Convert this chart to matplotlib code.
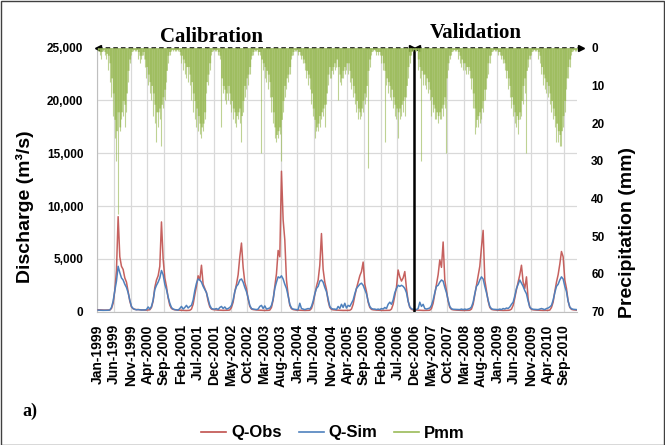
import matplotlib
matplotlib.use("Agg")
import matplotlib.pyplot as plt
from matplotlib.lines import Line2D
from matplotlib.patches import Rectangle
import numpy as np


# Semi-monthly series, Jan-1999 .. Dec-2010 (24 values per year)
Q_OBS = [
  180, 170, 160, 150, 150, 150, 150, 160, 300, 800, 2000, 3900, 9000, 5200, 4300, 4000, 3200, 2800, 1900, 1000, 450, 280, 220, 200,
  200, 180, 170, 160, 150, 150, 160, 180, 400, 1000, 2300, 3000, 3400, 4300, 8500, 5000, 3200, 2400, 1300, 600, 300, 220, 180, 160,
  150, 140, 130, 120, 110, 110, 120, 130, 250, 700, 1600, 2400, 3400, 3000, 4400, 2600, 2200, 1800, 1000, 450, 250, 200, 180, 160,
  150, 140, 140, 130, 130, 130, 140, 160, 400, 900, 1900, 2600, 3500, 5200, 6500, 4200, 2800, 2200, 1200, 500, 250, 200, 180, 160,
  150, 140, 130, 130, 120, 120, 130, 150, 400, 1100, 2400, 3600, 5800, 5200, 13300, 8700, 6800, 3000, 1600, 600, 280, 200, 170, 150,
  150, 140, 130, 130, 120, 120, 130, 140, 300, 800, 1600, 2400, 3000, 4400, 7400, 4000, 2800, 2100, 1000, 400, 220, 180, 160, 150,
  140, 130, 120, 120, 120, 110, 120, 130, 250, 700, 1500, 2200, 2800, 3400, 3800, 4700, 2600, 1900, 900, 400, 220, 180, 160, 150,
  140, 130, 120, 120, 120, 110, 120, 130, 250, 700, 1500, 2300, 3950, 3300, 2900, 3200, 3800, 2200, 1000, 400, 220, 170, 160, 150,
  140, 130, 130, 120, 120, 120, 130, 140, 300, 800, 1700, 2600, 3500, 4900, 4200, 6600, 3000, 2000, 1000, 400, 220, 180, 160, 150,
  140, 130, 130, 120, 120, 120, 130, 140, 250, 700, 1600, 2500, 3400, 4300, 6100, 7700, 3000, 2000, 1000, 400, 220, 180, 160, 150,
  140, 130, 130, 120, 120, 120, 130, 150, 250, 600, 1300, 2100, 2800, 3500, 4400, 2800, 2200, 3300, 1200, 400, 220, 180, 160, 150,
  140, 130, 130, 120, 120, 120, 130, 150, 400, 900, 1900, 2800, 3500, 4500, 5700, 5200, 3000, 2200, 1000, 400, 220, 180, 160, 150,
]

Q_SIM = [
  150, 140, 140, 130, 130, 130, 140, 160, 400, 1000, 2000, 2900, 4300, 3700, 3200, 3000, 2600, 2300, 1800, 1100, 500, 300, 220, 180,
  200, 180, 160, 160, 170, 200, 450, 250, 500, 1100, 2100, 2500, 2800, 3200, 3900, 3500, 2600, 2100, 1400, 800, 400, 250, 200, 170,
  150, 300, 500, 250, 400, 600, 350, 500, 600, 1100, 2000, 2700, 3100, 3000, 2800, 2400, 2100, 1800, 1200, 600, 300, 250, 250, 300,
  200, 400, 500, 300, 450, 250, 300, 400, 600, 1100, 1900, 2400, 2600, 3000, 3100, 2800, 2300, 1900, 1300, 600, 300, 250, 220, 200,
  250, 500, 600, 300, 550, 250, 300, 350, 600, 1200, 2200, 2800, 3300, 3200, 3400, 3100, 2600, 2200, 1500, 700, 350, 250, 220, 200,
  200, 800, 300, 250, 200, 250, 300, 250, 500, 1000, 1700, 2200, 2400, 2900, 3000, 2800, 2300, 1900, 1200, 500, 300, 250, 250, 200,
  500, 300, 700, 400, 800, 350, 600, 500, 800, 1100, 1700, 2200, 2400, 2600, 2700, 2500, 2100, 1700, 1000, 500, 300, 250, 250, 200,
  250, 200, 300, 250, 400, 300, 700, 900, 700, 1100, 1800, 2200, 2500, 2400, 2500, 2400, 2200, 1800, 1000, 450, 280, 220, 220, 200,
  300, 900, 500, 700, 300, 250, 300, 350, 600, 1100, 1800, 2400, 2500, 2800, 3000, 2900, 2300, 1800, 1100, 500, 280, 230, 220, 200,
  200, 200, 250, 200, 250, 200, 250, 300, 450, 900, 1700, 2400, 2600, 3000, 3300, 3100, 2400, 1800, 1100, 500, 280, 230, 220, 200,
  200, 250, 200, 300, 250, 350, 300, 450, 700, 900, 1500, 2200, 2600, 3000, 2700, 2400, 2000, 1700, 1000, 450, 280, 230, 220, 200,
  200, 250, 300, 250, 200, 300, 350, 450, 600, 1100, 1800, 2400, 2600, 3000, 3300, 3100, 2400, 1900, 1000, 450, 280, 230, 220, 200,
]

# typical daily rain within each half month (mm)
PMM_DENSE = [
  0.5, 1, 1, 0.5, 1, 1.5, 2, 4, 8, 12, 19, 22, 17, 21, 17, 14, 15, 12, 6, 3, 1, 0.5, 0.5, 0.5,
  1, 2, 2, 1, 3, 5, 7, 9, 10, 12, 15, 17, 17, 16, 15, 13, 11, 6, 2, 1, 0.5, 0.5, 0.5, 0.5,
  0.5, 1, 2, 3, 4, 5, 5, 7, 9, 12, 14, 16, 18, 20, 21, 20, 17, 9, 7, 4, 1, 0.5, 0.5, 0.5,
  1, 2, 8, 10, 11, 12, 10, 12, 14, 16, 17, 18, 17, 16, 18, 14, 10, 8, 7, 5, 2, 1, 0.5, 0.5,
  1, 1, 3, 4, 5, 6, 7, 9, 13, 17, 21, 23, 22, 21, 19, 14, 10, 8, 7, 5, 2, 1, 0.5, 0.5,
  1, 1, 2, 3, 4, 6, 7, 8, 12, 16, 19, 21, 20, 18, 17, 16, 15, 12, 7, 5, 6, 5, 4, 3,
  5, 7, 8, 6, 5, 4, 4, 6, 8, 10, 12, 14, 16, 17, 16, 14, 12, 10, 6, 3, 1, 0.5, 0.5, 1,
  1, 1, 2, 4, 6, 8, 9, 10, 11, 13, 15, 16, 17, 16, 15, 14, 13, 10, 5, 2, 1, 0.5, 0.5, 0.5,
  3, 5, 6, 7, 7, 8, 9, 11, 13, 15, 16, 17, 18, 17, 16, 15, 13, 8, 4, 2, 1, 0.5, 0.5, 0.5,
  1, 2, 3, 4, 4, 5, 5, 6, 8, 12, 16, 19, 18, 17, 16, 14, 11, 8, 4, 2, 1, 0.5, 0.5, 0.5,
  1, 1, 2, 3, 4, 6, 8, 10, 13, 15, 17, 18, 19, 17, 14, 10, 8, 6, 3, 2, 1, 0.5, 0.5, 0.5,
  1, 2, 5, 7, 8, 9, 10, 12, 14, 16, 18, 20, 22, 23, 22, 18, 14, 8, 5, 3, 1, 0.5, 0.5, 0.5,
]

# heaviest single day within each half month (mm)
PMM_PEAK = [
  1, 2, 3, 1, 2, 3, 6, 9, 13, 18, 24, 30, 44, 22, 19, 18, 21, 17, 9, 4, 2, 1, 1, 1,
  3, 4, 3, 2, 5, 8, 10, 12, 14, 18, 20, 25, 21, 19, 26, 16, 14, 9, 4, 2, 1, 1, 1, 1,
  1, 2, 4, 6, 7, 8, 9, 10, 14, 17, 19, 21, 22, 23, 24, 22, 19, 12, 10, 6, 2, 1, 1, 1,
  2, 3, 21, 12, 14, 15, 14, 15, 17, 19, 20, 21, 19, 20, 25, 17, 13, 11, 10, 7, 3, 2, 1, 1,
  2, 2, 28, 6, 8, 9, 11, 13, 17, 20, 24, 25, 24, 23, 30, 17, 13, 11, 9, 7, 3, 2, 1, 1,
  2, 2, 3, 4, 6, 8, 10, 11, 15, 18, 24, 22, 22, 21, 19, 18, 21, 15, 10, 8, 8, 7, 6, 5,
  14, 9, 10, 8, 7, 6, 7, 9, 11, 13, 15, 17, 19, 19, 18, 17, 15, 13, 32, 5, 2, 1, 1, 2,
  2, 2, 4, 6, 25, 10, 12, 13, 14, 16, 18, 19, 24, 19, 18, 17, 18, 13, 8, 4, 2, 1, 1, 1,
  6, 8, 30, 10, 10, 11, 12, 14, 18, 17, 19, 19, 20, 19, 19, 18, 16, 28, 6, 3, 2, 1, 1, 1,
  3, 4, 5, 6, 6, 7, 7, 8, 11, 16, 23, 21, 21, 20, 19, 17, 14, 11, 7, 4, 2, 1, 1, 1,
  2, 2, 3, 4, 6, 8, 11, 13, 16, 18, 20, 21, 23, 19, 18, 15, 12, 28, 5, 3, 2, 1, 1, 1,
  3, 4, 7, 10, 11, 12, 13, 15, 17, 19, 21, 25, 25, 26, 26, 21, 17, 11, 8, 5, 2, 1, 1, 1,
]

TICK_LABELS = [
  "Jan-1999", "Jun-1999", "Nov-1999", "Apr-2000", "Sep-2000", "Feb-2001",
  "Jul-2001", "Dec-2001", "May-2002", "Oct-2002", "Mar-2003", "Aug-2003",
  "Jan-2004", "Jun-2004", "Nov-2004", "Apr-2005", "Sep-2005", "Feb-2006",
  "Jul-2006", "Dec-2006", "May-2007", "Oct-2007", "Mar-2008", "Aug-2008",
  "Jan-2009", "Jun-2009", "Nov-2009", "Apr-2010", "Sep-2010",
]

SPLIT_MONTH = 95  # Dec-2006: calibration | validation

RED = "#c0504d"
BLUE = "#4f81bd"
GREEN = "#9bbb59"
GRID = "#d9d9d9"
SANS = "Liberation Sans"
SERIF = "Liberation Serif"

W, H = 665, 445


def fx(px):
  return px / W


def fy(py):
  return 1 - py / H


def main():
  fig = plt.figure(figsize=(W / 100, H / 100), dpi=100)
  ax = fig.add_axes([fx(97.3), fy(311.7), (577.3 - 97.3) / W, 264 / H])

  n = len(Q_OBS)
  months = np.arange(n) * 0.5 + 0.25
  edges = np.arange(n + 1) * 0.5

  ax.plot(months, Q_OBS, color=RED, lw=1.1, alpha=0.9, zorder=3)
  ax.plot(months, Q_SIM, color=BLUE, lw=1.1, zorder=4)

  ax.set_xlim(0, 144)
  ax.set_ylim(0, 25000)
  ax.set_yticks(range(0, 25001, 5000))
  ax.set_yticklabels([f"{v:,}" for v in range(0, 25001, 5000)],
                     fontfamily=SANS, fontweight="bold", fontsize=8.5)
  ax.set_xticks(range(0, 141, 5))
  ax.set_xticklabels(TICK_LABELS, rotation=90, fontfamily=SANS,
                     fontweight="bold", fontsize=10)
  ax.tick_params(axis="both", length=0)
  ax.tick_params(axis="x", pad=9)
  ax.tick_params(axis="y", pad=10)
  ax.grid(True, color=GRID, lw=0.9)
  ax.set_axisbelow(True)
  for side in ("top", "right"):
    ax.spines[side].set_visible(False)
  for side in ("left", "bottom"):
    ax.spines[side].set_color("#bfbfbf")

  ax2 = ax.twinx()
  dense = np.append(PMM_DENSE, PMM_DENSE[-1])
  ax2.fill_between(edges, 0, dense, step="post", color=GREEN, alpha=0.85,
                   lw=0, zorder=2)
  ax2.vlines(months, 0, PMM_PEAK, color=GREEN, alpha=0.65, lw=0.8, zorder=2)
  ax2.set_ylim(70, 0)
  ax2.set_yticks(range(0, 71, 10))
  ax2.set_yticklabels([str(v) for v in range(0, 71, 10)],
                      fontfamily=SANS, fontweight="bold", fontsize=8.5)
  ax2.tick_params(axis="y", length=0, pad=10)
  for side in ("top", "right", "left", "bottom"):
    ax2.spines[side].set_visible(False)

  # calibration / validation split and period arrows
  ax.axvline(SPLIT_MONTH, color="black", lw=1.8, zorder=6)
  trans = ax.get_xaxis_transform()
  for x0, x1 in ((0.3, 94.3), (96.0, 145.0)):
    ax.plot([x0, x1], [1, 1], transform=trans, color="black", lw=1.1,
            dashes=(3, 2), clip_on=False, zorder=7)
    ax.plot([x0], [1], transform=trans, marker="<", ms=4, color="black",
            clip_on=False, zorder=7)
    ax.plot([x1], [1], transform=trans, marker=">", ms=4, color="black",
            clip_on=False, zorder=7)

  fig.text(fx(211), fy(37), "Calibration", ha="center", va="center",
           fontfamily=SERIF, fontweight="bold", fontsize=15)
  fig.text(fx(476), fy(33), "Validation", ha="center", va="center",
           fontfamily=SERIF, fontweight="bold", fontsize=15)
  fig.text(fx(30), fy(411), "a)", ha="center", va="center",
           fontfamily=SERIF, fontweight="bold", fontsize=13)

  fig.text(fx(25), fy(207), "Discharge (m\u00b3/s)", rotation=90,
           ha="center", va="center", fontfamily=SANS, fontweight="bold",
           fontsize=14)
  fig.text(fx(628), fy(233), "Precipitation (mm)", rotation=90,
           ha="center", va="center", fontfamily=SANS, fontweight="bold",
           fontsize=14)

  handles = [Line2D([], [], color=c, lw=1.2) for c in (RED, BLUE, GREEN)]
  fig.legend(handles, ["Q-Obs", "Q-Sim", "Pmm"], loc="center",
             bbox_to_anchor=(fx(333), fy(433)), ncol=3, frameon=False,
             prop={"family": SANS, "weight": "bold", "size": 12},
             handlelength=1.5, handletextpad=0.3, columnspacing=1.0)

  fig.add_artist(Rectangle((0.001, 0.001), 0.997, 0.997,
                           transform=fig.transFigure, fill=False,
                           ec="#404040", lw=1))

  fig.savefig("out.png", dpi=100)


if __name__ == "__main__":
  main()
